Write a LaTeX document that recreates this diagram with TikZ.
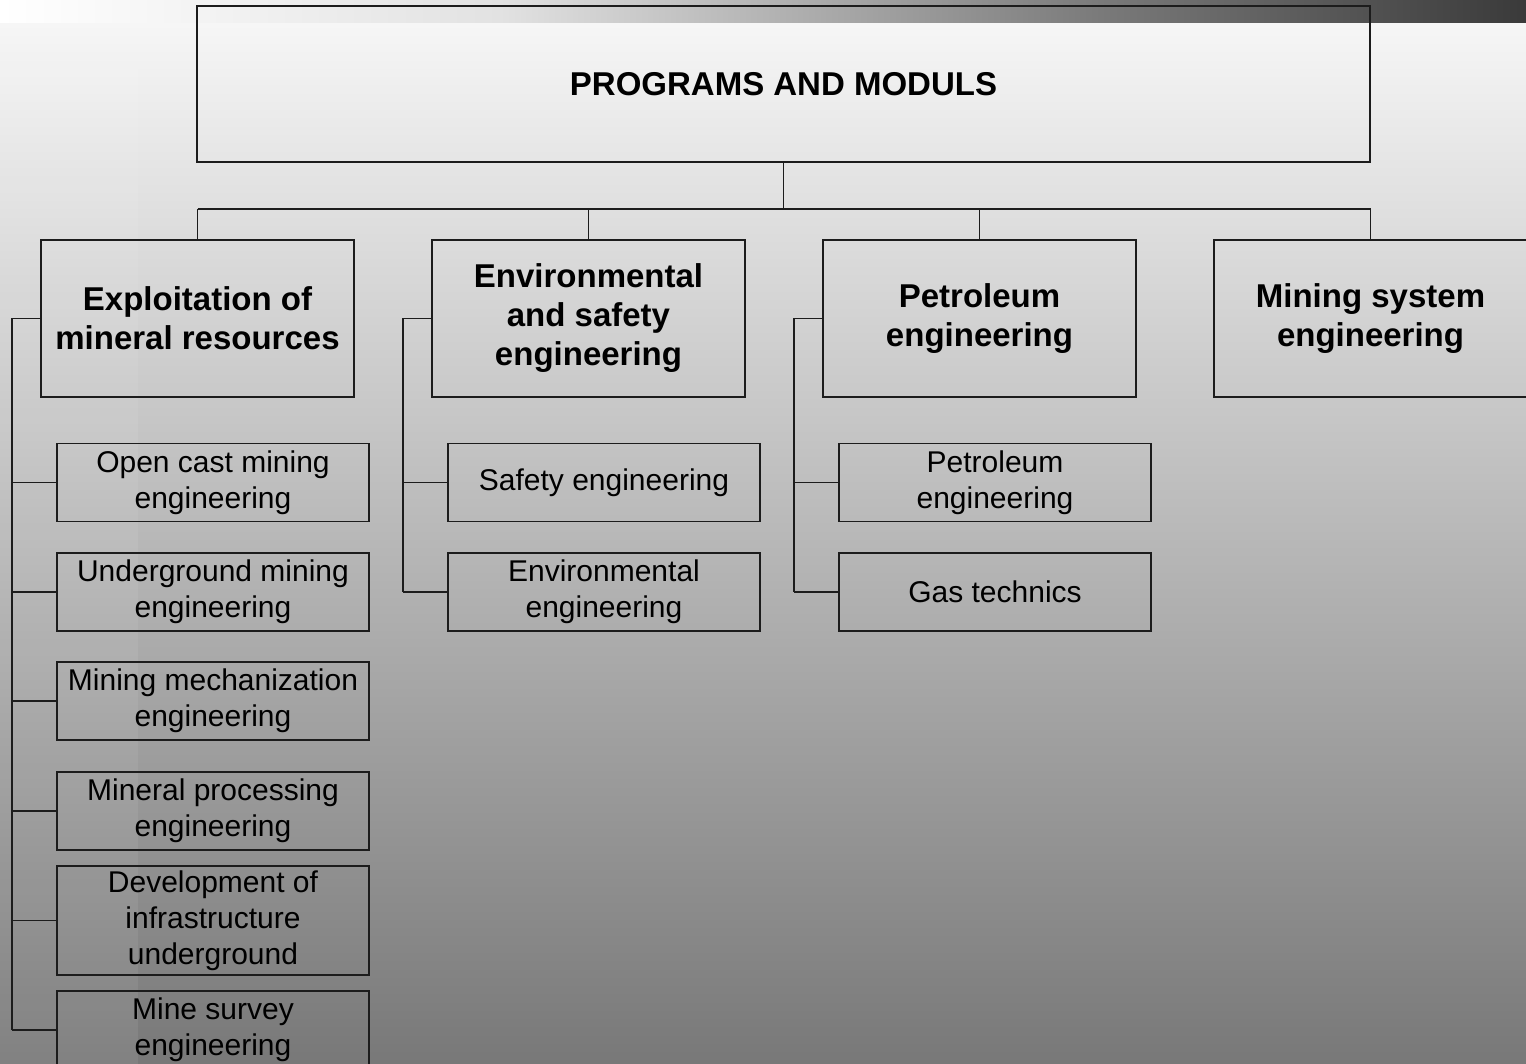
\documentclass[tikz,border=0pt]{standalone}
\usepackage{fontspec}
\setmainfont{Liberation Sans}
\definecolor{bgtop}{RGB}{246,246,246}
\definecolor{bgmid}{RGB}{192,192,192}
\definecolor{bgbot}{RGB}{120,120,120}
\definecolor{bandA}{RGB}{255,255,255}
\definecolor{bandB}{RGB}{226,226,226}
\definecolor{bandC}{RGB}{122,122,122}
\definecolor{bandD}{RGB}{58,58,58}
\definecolor{linec}{RGB}{28,28,28}
\begin{document}
\begin{tikzpicture}[x=0.5pt,y=-0.5pt,
  every node/.style={inner sep=0pt, outer sep=0pt},
  boxline/.style={draw=linec, line width=0.6pt},
  mainbox/.style={boxline, minimum width=586.5pt, minimum height=78pt,
    font=\fontsize{16.5}{19.5}\selectfont\bfseries, align=center},
  progbox/.style={boxline, minimum width=156.5pt, minimum height=78.5pt,
    font=\fontsize{16.5}{19.5}\selectfont\bfseries, align=center},
  subbox/.style={boxline, minimum width=156pt, minimum height=39pt,
    font=\fontsize{15}{18}\selectfont, align=center},
  link/.style={draw=linec, line width=0.6pt}]
\useasboundingbox (0,0) rectangle (1526,1064);
\clip (0,0) rectangle (1526,1064);
% background
\shade[top color=bgtop, middle color=bgmid, bottom color=bgbot] (0,23) rectangle (1526,1064);
\fill[white, opacity=0.07] (0,23) rectangle (138,1064);
\shade[left color=bandA, right color=bandB] (0,0) rectangle (500,23);
\shade[left color=bandB, right color=bandC] (500,0) rectangle (1100,23);
\shade[left color=bandC, right color=bandD] (1100,0) rectangle (1526,23);

% top box
\node[mainbox] (top) at (783.5,84) {PROGRAMS AND MODULS};

% programs
\node[progbox] (p1) at (197.5,318.5) {Exploitation of\\mineral resources};
\node[progbox] (p2) at (588.5,318.5) {Environmental\\and safety\\engineering};
\node[progbox] (p3) at (979.5,318.5) {Petroleum\\engineering};
\node[progbox] (p4) at (1370.5,318.5) {Mining system\\engineering};

% moduls of program 1
\node[subbox] (a1) at (213,482.5) {Open cast mining\\engineering};
\node[subbox] (a2) at (213,592) {Underground mining\\engineering};
\node[subbox] (a3) at (213,701) {Mining mechanization\\engineering};
\node[subbox] (a4) at (213,811) {Mineral processing\\engineering};
\node[subbox, minimum height=54.5pt] (a5) at (213,920.5) {Development of\\infrastructure\\underground};
\node[subbox] (a6) at (213,1030) {Mine survey\\engineering};

% moduls of program 2
\node[subbox] (b1) at (604,482.5) {Safety engineering};
\node[subbox] (b2) at (604,592) {Environmental\\engineering};

% moduls of program 3
\node[subbox] (c1) at (995,482.5) {Petroleum\\engineering};
\node[subbox] (c2) at (995,592) {Gas technics};

% connectors from top
\coordinate (bus) at (783.5,209);
\draw[link] (top.south) -- (top.south |- bus);
\draw[link] (p1.north |- bus) -- (p4.north |- bus);
\foreach \p in {p1,p2,p3,p4} \draw[link] (\p.north) -- (\p.north |- bus);

% side brackets
\coordinate (ra) at (12,0);
\coordinate (rb) at (403,0);
\coordinate (rc) at (794,0);
\draw[link] (p1.west) -| (ra |- a6.west);
\foreach \s in {a1,a2,a3,a4,a5,a6} \draw[link] (\s.west) -- (\s.west -| ra);
\draw[link] (p2.west) -| (rb |- b2.west);
\foreach \s in {b1,b2} \draw[link] (\s.west) -- (\s.west -| rb);
\draw[link] (p3.west) -| (rc |- c2.west);
\foreach \s in {c1,c2} \draw[link] (\s.west) -- (\s.west -| rc);
\end{tikzpicture}
\end{document}
